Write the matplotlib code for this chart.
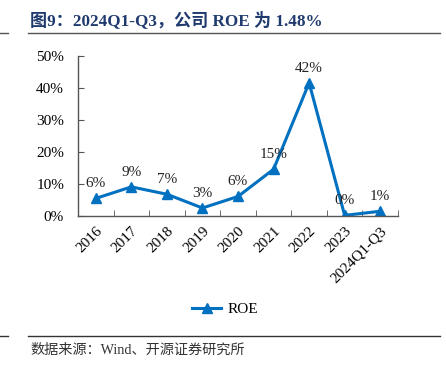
import numpy as np
import matplotlib.pyplot as plt
from matplotlib.lines import Line2D

# data
years = ["2016", "2017", "2018", "2019", "2020", "2021", "2022", "2023", "2024Q1-Q3"]
roe = [5.5, 9.1, 6.8, 2.5, 6.1, 14.6, 41.6, 0.2, 1.48]
roe_labels = ["6%", "9%", "7%", "3%", "6%", "15%", "42%", "0%", "1%"]
y_ticks = [0, 10, 20, 30, 40, 50]

serif = ["Liberation Serif", "Noto Sans CJK SC"]
blue = "#0070C0"
navy = "#1F3A6E"

fig = plt.figure(figsize=(4.46, 3.66), dpi=100)
ax = fig.add_axes([78 / 446, 1 - 216 / 366, 320 / 446, 160 / 366])

x = np.arange(len(years))
ax.plot(x, roe, color=blue, linewidth=2.2, marker="^", markersize=7.5, label="ROE")
for xi, v, t in zip(x, roe, roe_labels):
    ax.annotate(t, (xi, v), xytext=(0, 6), textcoords="offset points",
                ha="center", va="bottom", fontsize=11, family=serif, color="#222222")

ax.set_xlim(-0.5, len(years) - 0.5)
ax.set_ylim(0, 50)
ax.set_yticks(y_ticks)
ax.set_yticklabels([f"{v}%" for v in y_ticks], family=serif, fontsize=11)
ax.set_xticks(x)
ax.set_xticklabels(years, rotation=45, ha="right", rotation_mode="anchor",
                   family=serif, fontsize=11)
ax.tick_params(axis="x", length=0, pad=6)
ax.set_xticks(np.arange(-0.5, len(years)), minor=True)
ax.tick_params(axis="x", which="minor", direction="in", length=4, color="#555555")
ax.tick_params(axis="y", direction="in", length=4, color="#555555", pad=10)

for s in ["top", "right"]:
    ax.spines[s].set_visible(False)
for s in ["left", "bottom"]:
    ax.spines[s].set_color("#555555")
    ax.spines[s].set_linewidth(1.0)

handle = Line2D([], [], color=blue, linewidth=2.2, marker="^", markersize=7.5)
fig.legend([handle], ["ROE"], loc="center", bbox_to_anchor=(225 / 446, 1 - 309 / 366),
           frameon=False, prop={"family": serif, "size": 11}, handlelength=1.9,
           handletextpad=0.4)

# header / footer
fig.text(30 / 446, 1 - 20 / 366, "图9：2024Q1-Q3，公司 ROE 为 1.48%", color=navy,
         fontsize=12.3, fontweight="bold", family=serif, va="center", ha="left")
fig.add_artist(Line2D([28 / 446, 440 / 446], [1 - 33 / 366] * 2, color="#555555", lw=1))
fig.add_artist(Line2D([0, 8 / 446], [1 - 33 / 366] * 2, color="#555555", lw=1))
fig.add_artist(Line2D([28 / 446, 440 / 446], [1 - 336 / 366] * 2, color="#333333", lw=1))
fig.add_artist(Line2D([0, 8 / 446], [1 - 336 / 366] * 2, color="#333333", lw=1))
fig.text(30 / 446, 1 - 350 / 366, "数据来源：Wind、开源证券研究所", color="#333333",
         fontsize=10.2, family=serif, va="center", ha="left")

fig.savefig("out.png", dpi=100)
